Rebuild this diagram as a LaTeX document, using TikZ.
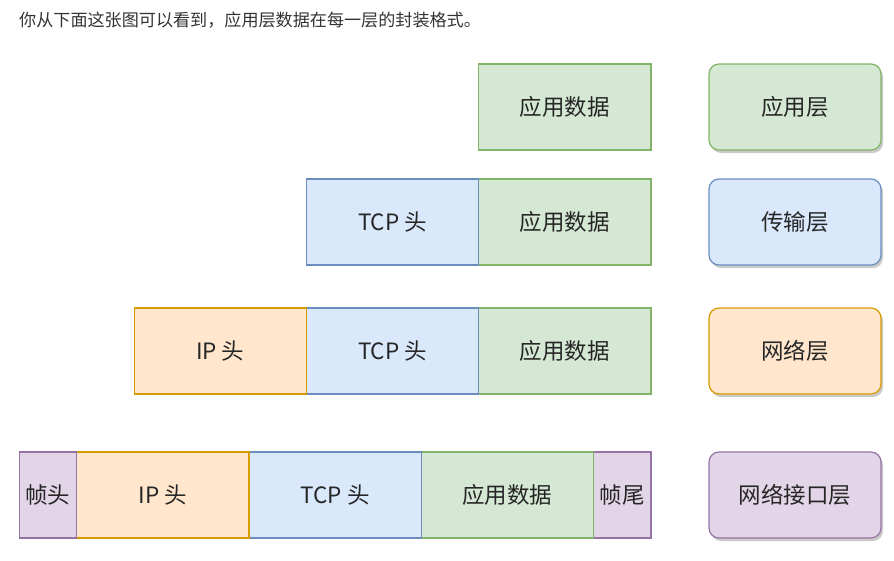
\documentclass[tikz,border=0pt]{standalone}
\usepackage{fontspec}
\setmainfont{Noto Sans CJK SC}
\usetikzlibrary{positioning,shadows}
\definecolor{appfill}{HTML}{D5E8D4}
\definecolor{appline}{HTML}{82B366}
\definecolor{tcpfill}{HTML}{DAE8FC}
\definecolor{tcpline}{HTML}{6C8EBF}
\definecolor{ipfill}{HTML}{FFE6CC}
\definecolor{ipline}{HTML}{D79B00}
\definecolor{frmfill}{HTML}{E1D5E7}
\definecolor{frmline}{HTML}{9673A6}

\begin{document}
\begin{tikzpicture}[x=1pt,y=-1pt,
    cell/.style={draw, line width=1.2pt, minimum height=86pt, inner sep=0pt, outer sep=0pt,
      font=\fontsize{22.5}{27}\selectfont, text=black!85},
    wide/.style={cell, minimum width=172.3pt},
    narrow/.style={cell, minimum width=57.5pt},
    app/.style={wide, fill=appfill, draw=appline},
    tcp/.style={wide, fill=tcpfill, draw=tcpline},
    ip/.style={wide, fill=ipfill, draw=ipline},
    frm/.style={narrow, fill=frmfill, draw=frmline},
    layer/.style={cell, minimum width=172pt, rounded corners=10pt,
      drop shadow={shadow xshift=2pt, shadow yshift=-3pt, opacity=0.35, fill=black!60}}]
    \useasboundingbox (0,0) rectangle (894,560);

    % Title
    \node[anchor=west, inner sep=0pt, text=black!80, font=\fontsize{17.1}{20}\selectfont]
      (title) at (19,20) {你从下面这张图可以看到，应用层数据在每一层的封装格式。};

    % Application layer
    \node[app, anchor=east] (app1) at (651,107) {应用数据};
    \node[layer, fill=appfill, draw=appline, anchor=west] (lay1) at (709,107) {应用层};

    % Transport layer
    \node[app, anchor=east] (app2) at (651,222) {应用数据};
    \node[tcp, left=0pt of app2] (tcp2) {TCP 头};
    \node[layer, fill=tcpfill, draw=tcpline, anchor=west] (lay2) at (709,222) {传输层};

    % Network layer
    \node[app, anchor=east] (app3) at (651,351) {应用数据};
    \node[tcp, left=0pt of app3] (tcp3) {TCP 头};
    \node[ip, left=0pt of tcp3] (ip3) {IP 头};
    \node[layer, fill=ipfill, draw=ipline, anchor=west] (lay3) at (709,351) {网络层};

    % Link layer
    \node[frm, anchor=east] (tail4) at (651,495) {帧尾};
    \node[app, left=0pt of tail4] (app4) {应用数据};
    \node[tcp, left=0pt of app4] (tcp4) {TCP 头};
    \node[ip, left=0pt of tcp4] (ip4) {IP 头};
    \node[frm, left=0pt of ip4] (head4) {帧头};
    \node[layer, fill=frmfill, draw=frmline, anchor=west] (lay4) at (709,495) {网络接口层};
\end{tikzpicture}
\end{document}
